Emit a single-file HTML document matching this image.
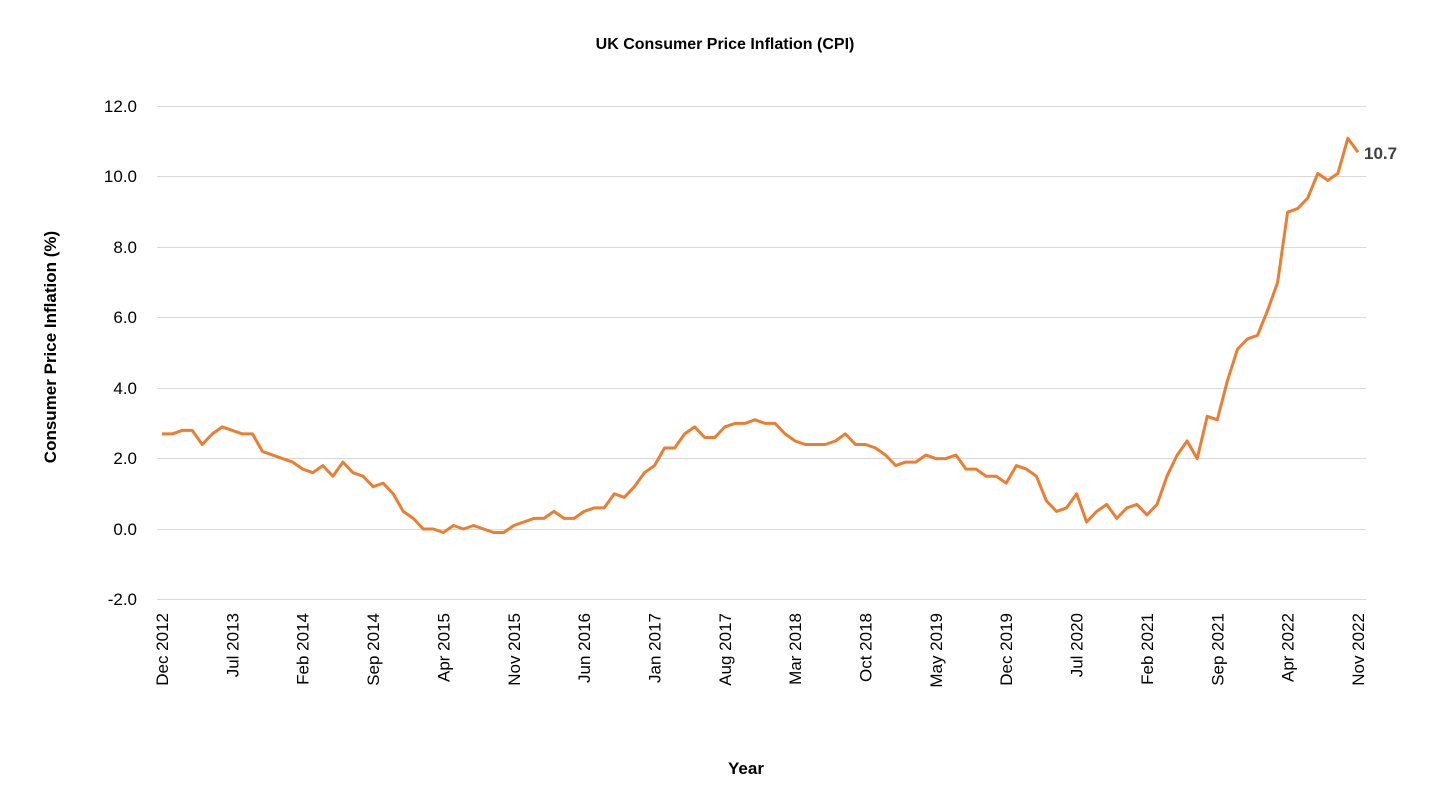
<!DOCTYPE html>
<html><head><meta charset="utf-8"><style>
html,body{margin:0;padding:0;background:#fff;}
svg{display:block;font-family:"Liberation Sans",Calibri,sans-serif;}
</style></head><body>
<svg id="s" width="1450" height="806" viewBox="0 0 1450 806" xmlns="http://www.w3.org/2000/svg">
<text x="725" y="49" text-anchor="middle" font-size="16" font-weight="bold" fill="#000">UK Consumer Price Inflation (CPI)</text>
<g stroke="#d9d9d9" stroke-width="1">
<line x1="157" x2="1366" y1="106.5" y2="106.5"/>
<line x1="157" x2="1366" y1="176.5" y2="176.5"/>
<line x1="157" x2="1366" y1="247.5" y2="247.5"/>
<line x1="157" x2="1366" y1="317.5" y2="317.5"/>
<line x1="157" x2="1366" y1="388.5" y2="388.5"/>
<line x1="157" x2="1366" y1="458.5" y2="458.5"/>
<line x1="157" x2="1366" y1="529.5" y2="529.5"/>
<line x1="157" x2="1366" y1="599.5" y2="599.5"/>
</g>
<g font-size="17" fill="#000" text-anchor="end">
<text x="137" y="112">12.0</text>
<text x="137" y="182">10.0</text>
<text x="137" y="253">8.0</text>
<text x="137" y="323">6.0</text>
<text x="137" y="394">4.0</text>
<text x="137" y="464">2.0</text>
<text x="137" y="535">0.0</text>
<text x="137" y="605">-2.0</text>
</g>
<g font-size="17" fill="#000" text-anchor="end">
<text transform="translate(168,613) rotate(-90)">Dec 2012</text>
<text transform="translate(238.4,613) rotate(-90)">Jul 2013</text>
<text transform="translate(308.7,613) rotate(-90)">Feb 2014</text>
<text transform="translate(379.1,613) rotate(-90)">Sep 2014</text>
<text transform="translate(449.4,613) rotate(-90)">Apr 2015</text>
<text transform="translate(519.8,613) rotate(-90)">Nov 2015</text>
<text transform="translate(590.1,613) rotate(-90)">Jun 2016</text>
<text transform="translate(660.5,613) rotate(-90)">Jan 2017</text>
<text transform="translate(730.8,613) rotate(-90)">Aug 2017</text>
<text transform="translate(801.2,613) rotate(-90)">Mar 2018</text>
<text transform="translate(871.5,613) rotate(-90)">Oct 2018</text>
<text transform="translate(941.9,613) rotate(-90)">May 2019</text>
<text transform="translate(1012.2,613) rotate(-90)">Dec 2019</text>
<text transform="translate(1082.6,613) rotate(-90)">Jul 2020</text>
<text transform="translate(1152.9,613) rotate(-90)">Feb 2021</text>
<text transform="translate(1223.3,613) rotate(-90)">Sep 2021</text>
<text transform="translate(1293.6,613) rotate(-90)">Apr 2022</text>
<text transform="translate(1364,613) rotate(-90)">Nov 2022</text>
</g>
<text transform="translate(56,347) rotate(-90)" text-anchor="middle" font-size="17" font-weight="bold" fill="#000">Consumer Price Inflation (%)</text>
<text x="746" y="774" text-anchor="middle" font-size="17" font-weight="bold" fill="#000">Year</text>
<polyline id="ln" fill="none" stroke="#ED7D31" stroke-width="3" stroke-linejoin="round" points=""/>
<text x="1364" y="159" font-size="17" font-weight="bold" fill="#404040">10.7</text>
</svg>
<script>
var d=[2.7,2.7,2.8,2.8,2.4,2.7,2.9,2.8,2.7,2.7,2.2,2.1,2.0,
1.9,1.7,1.6,1.8,1.5,1.9,1.6,1.5,1.2,1.3,1.0,0.5,
0.3,0.0,0.0,-0.1,0.1,0.0,0.1,0.0,-0.1,-0.1,0.1,0.2,
0.3,0.3,0.5,0.3,0.3,0.5,0.6,0.6,1.0,0.9,1.2,1.6,
1.8,2.3,2.3,2.7,2.9,2.6,2.6,2.9,3.0,3.0,3.1,3.0,
3.0,2.7,2.5,2.4,2.4,2.4,2.5,2.7,2.4,2.4,2.3,2.1,
1.8,1.9,1.9,2.1,2.0,2.0,2.1,1.7,1.7,1.5,1.5,1.3,
1.8,1.7,1.5,0.8,0.5,0.6,1.0,0.2,0.5,0.7,0.3,0.6,
0.7,0.4,0.7,1.5,2.1,2.5,2.0,3.2,3.1,4.2,5.1,5.4,
5.5,6.2,7.0,9.0,9.1,9.4,10.1,9.9,10.1,11.1,10.7];
var p=d.map(function(v,i){return (162+i*1196/119).toFixed(1)+","+(529-v*35.21).toFixed(1);}).join(" ");
document.getElementById("ln").setAttribute("points",p);
</script>
</body></html>
